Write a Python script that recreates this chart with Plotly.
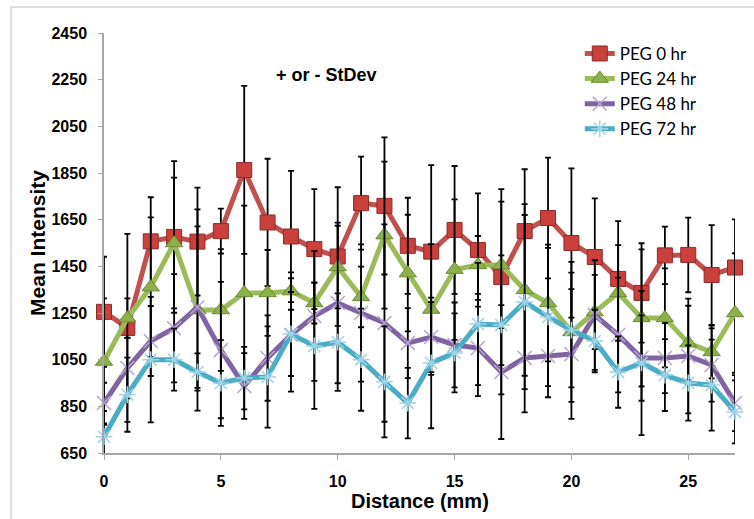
import plotly.graph_objects as go

distance_mm = list(range(28))

peg0_mean = [1255, 1186, 1557, 1576, 1556, 1601, 1863, 1638, 1578, 1524, 1492, 1721, 1709, 1538,
             1513, 1606, 1520, 1404, 1601, 1657, 1550, 1490, 1396, 1336, 1497, 1499, 1413, 1445]
peg0_sd = [236, 403, 189, 325, 231, 96, 360, 273, 281, 257, 297, 199, 294, 206,
           371, 274, 243, 377, 265, 259, 320, 251, 248, 213, 123, 160, 214, 206]

peg24_mean = [1042, 1228, 1361, 1550, 1263, 1263, 1336, 1336, 1344, 1293, 1447, 1319, 1584, 1421,
              1265, 1436, 1456, 1456, 1349, 1293, 1169, 1254, 1336, 1229, 1229, 1121, 1083, 1250]
peg24_sd = [271, 85, 299, 280, 431, 261, 374, 184, 80, 88, 177, 130, 315, 250,
            280, 301, 124, 271, 368, 250, 300, 159, 205, 294, 212, 160, 113, 256]

peg48_mean = [864, 1014, 1130, 1185, 1275, 1091, 937, 1057, 1156, 1237, 1293, 1250, 1207, 1121,
              1147, 1113, 1100, 997, 1057, 1066, 1074, 1241, 1156, 1057, 1057, 1066, 1027, 864]
peg48_sd = [87, 130, 150, 232, 346, 292, 141, 183, 243, 278, 344, 294, 423, 150,
            150, 182, 206, 287, 233, 177, 278, 235, 246, 183, 150, 246, 157, 120]

peg72_mean = [720, 900, 1050, 1050, 997, 950, 971, 976, 1160, 1109, 1125, 1050, 955, 864,
              1036, 1079, 1203, 1199, 1297, 1233, 1177, 1130, 997, 1036, 984, 950, 941, 826]
peg72_sd = [110, 159, 269, 133, 80, 184, 134, 217, 180, 270, 209, 219, 238, 151,
            280, 169, 262, 298, 373, 296, 246, 134, 153, 309, 154, 161, 195, 135]

series_names = ["PEG 0 hr", "PEG 24 hr", "PEG 48 hr", "PEG 72 hr"]
y_ticks = [650, 850, 1050, 1250, 1450, 1650, 1850, 2050, 2250, 2450]
x_ticks = [0, 5, 10, 15, 20, 25]

styles = [
    dict(line="#C0504D", marker=dict(symbol="square", size=15, color="#C9403C",
                                     line=dict(color="#8E2B28", width=1))),
    dict(line="#9BBB59", marker=dict(symbol="triangle-up", size=15, color="#8DB04A",
                                     line=dict(color="#6A8A33", width=1))),
    dict(line="#8064A2", marker=dict(symbol="x-thin-open", size=14, color="#B7A5D3",
                                     line=dict(color="#B7A5D3", width=1.5))),
    dict(line="#4BACC6", marker=dict(symbol="asterisk-open", size=14, color="#9ED3E6",
                                     line=dict(color="#9ED3E6", width=1.5))),
]

means = [peg0_mean, peg24_mean, peg48_mean, peg72_mean]
sds = [peg0_sd, peg24_sd, peg48_sd, peg72_sd]

fig = go.Figure()
for name, m, s, st in zip(series_names, means, sds, styles):
    fig.add_trace(go.Scatter(
        x=distance_mm, y=m, name=name, mode="lines+markers",
        line=dict(color=st["line"], width=5),
        marker=st["marker"],
        error_y=dict(type="data", array=s, symmetric=True, color="black",
                     thickness=1.8, width=3),
        cliponaxis=False,
    ))

fig.add_annotation(text="<b>+ or - StDev</b>", x=0.352, y=0.9, xref="paper", yref="paper",
                   xanchor="center", yanchor="middle",
                   showarrow=False, font=dict(family="Liberation Sans, Arial", size=18, color="black"))

# x-axis title placed as annotation for exact vertical position
fig.add_annotation(text="<b>Distance (mm)</b>", x=0.5, y=-0.115, xref="paper", yref="paper",
                   xanchor="center", yanchor="middle",
                   showarrow=False, font=dict(family="Liberation Sans, Arial", size=20, color="black"))

fig.add_shape(type="rect", xref="paper", yref="paper", x0=-0.1474, y0=-0.2, x1=1.1, y1=1.0619,
              line=dict(color="#BDBDBD", width=1), fillcolor="rgba(0,0,0,0)", layer="below")

fig.update_layout(
    width=754, height=519,
    margin=dict(l=104, r=19, t=33, b=66),
    paper_bgcolor="white", plot_bgcolor="white",
    font=dict(family="Liberation Sans, Arial", color="black"),
    showlegend=True,
    legend=dict(x=0.754, y=0.993, xanchor="left", yanchor="top",
                font=dict(family="Lato", size=17, color="black"),
                bgcolor="rgba(0,0,0,0)", tracegroupgap=0, itemwidth=30),
    xaxis=dict(range=[0, 27], tickvals=x_ticks, ticks="outside", ticklen=5, tickcolor="#A6A6A6",
               showline=True, linecolor="#A6A6A6", linewidth=1.5, showgrid=False, zeroline=False,
               tickfont=dict(size=16, family="Liberation Sans, Arial", weight="bold"),
               ticklabelstandoff=8),
    yaxis=dict(range=[650, 2450], tickvals=y_ticks, ticks="outside", ticklen=4, tickcolor="#A6A6A6",
               showline=True, linecolor="#A6A6A6", linewidth=1.5, showgrid=False, zeroline=False,
               tickfont=dict(size=16, family="Liberation Sans, Arial", weight="bold"),
               ticklabelstandoff=8,
               title=dict(text="<b>Mean Intensity</b>", font=dict(size=21), standoff=0)),
)

fig.write_html("out.html", config={"displayModeBar": False},
               post_script="document.body.style.margin='0';")
